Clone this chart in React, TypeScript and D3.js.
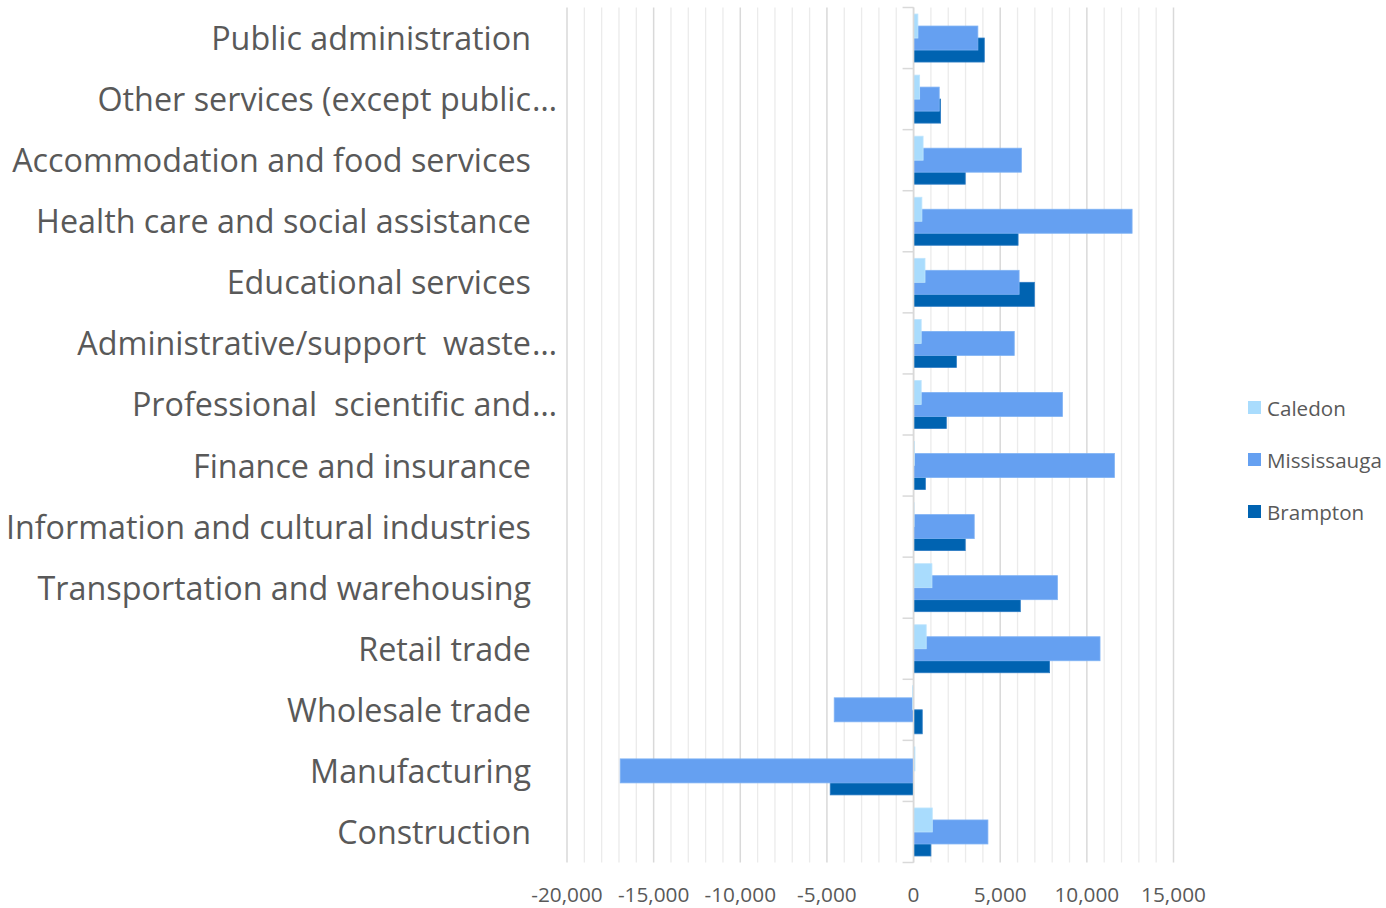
import React from "react";
import * as d3 from "d3";

const categories = [
  "Public administration",
  "Other services (except public…",
  "Accommodation and food services",
  "Health care and social assistance",
  "Educational services",
  "Administrative/support  waste…",
  "Professional  scientific and…",
  "Finance and insurance",
  "Information and cultural industries",
  "Transportation and warehousing",
  "Retail trade",
  "Wholesale trade",
  "Manufacturing",
  "Construction",
];

const seriesNames = ["Caledon", "Mississauga", "Brampton"];
const seriesColors = ["#a9dcfd", "#65a0f1", "#0063b1"];

const caledon = [250, 350, 550, 480, 660, 440, 440, 50, 30, 1060, 730, -60, 80, 1080];
const mississauga = [3710, 1480, 6220, 12610, 6090, 5810, 8590, 11590, 3500, 8300, 10760, -4580, -16930, 4290];
const brampton = [4080, 1560, 2980, 6030, 6970, 2470, 1890, 680, 2980, 6160, 7850, 500, -4810, 1000];

const xTicks = [-20000, -15000, -10000, -5000, 0, 5000, 10000, 15000];

export default function App() {
  const W = 1386;
  const H = 908;
  const x = d3.scaleLinear().domain([-20000, 15000]).range([567, 1173.5]);
  const y = d3.scaleBand<string>().domain(categories).range([7.5, 862.5]).padding(0);
  const off = d3.scalePoint<string>().domain(seriesNames).range([-12, 12]);
  const barH = 24;
  const data = [caledon, mississauga, brampton];
  const minor = d3.range(-20000, 15001, 1000);
  const fmt = (v: number) => d3.format(",")(v).replace("\u2212", "-");
  const textColor = "#595959";
  const font = "'Open Sans', 'Noto Sans', sans-serif";
  const drawOrder = [2, 1, 0];
  const [y0, y1] = y.range();
  const labelSize = 32.3;

  return (
    <svg width={W} height={H} style={{ position: "absolute", left: 0, top: 0, background: "#fff" }} fontFamily={font}>
      {minor.filter((v) => v % 5000 !== 0).map((v) => (
        <line key={"m" + v} x1={x(v)} x2={x(v)} y1={y0} y2={y1} stroke="#ebebeb" strokeWidth={1.3} />
      ))}
      {xTicks.map((v) => (
        <line key={"M" + v} x1={x(v)} x2={x(v)} y1={y0} y2={y1} stroke="#d9d9d9" strokeWidth={1.5} />
      ))}
      {categories.map((c) => (
        <line key={"t" + c} x1={x(0) - 11} x2={x(0)} y1={y(c)!} y2={y(c)!} stroke="#d9d9d9" strokeWidth={1.5} />
      ))}
      <line x1={x(0) - 11} x2={x(0)} y1={y1} y2={y1} stroke="#d9d9d9" strokeWidth={1.5} />
      {drawOrder.map((si) =>
        categories.map((c, ci) => {
          const v = data[si][ci];
          const cy = y(c)! + y.bandwidth() / 2 + off(seriesNames[si])!;
          return (
            <rect
              key={si + "-" + c}
              x={Math.min(x(0), x(v))}
              y={cy - barH / 2}
              width={Math.abs(x(v) - x(0))}
              height={barH}
              fill={seriesColors[si]}
              stroke={si === 2 ? "#2b7bc4" : si === 1 ? "#7fb2f4" : "#bfe5fd"}
              strokeWidth={0.8}
            />
          );
        })
      )}
      <line x1={x(0)} x2={x(0)} y1={y0} y2={y1} stroke="#d9d9d9" strokeWidth={1.5} />
      {categories.map((c) => {
        const cy = y(c)! + y.bandwidth() / 2 + 12;
        const trunc = c.endsWith("…");
        const main = trunc ? c.slice(0, -1) : c;
        return (
          <g key={"l" + c}>
            <text x={531} y={cy} textAnchor="end" fontSize={labelSize} fill={textColor} style={{ whiteSpace: "pre" }}>
              {main}
            </text>
            {trunc && (
              <text x={532} y={cy} textAnchor="start" fontSize={labelSize} fill={textColor}>
                …
              </text>
            )}
          </g>
        );
      })}
      {xTicks.map((v) => (
        <text key={"x" + v} x={x(v)} y={901.5} textAnchor="middle" fontSize={20.8} fill={textColor}>
          {fmt(v)}
        </text>
      ))}
      {seriesNames.map((s, i) => (
        <g key={"lg" + s} transform={`translate(1248, ${401 + i * 52})`}>
          <rect x={0} y={0} width={13} height={13} fill={seriesColors[i]} />
          <text x={19} y={14.5} fontSize={20.6} fill={textColor}>
            {s}
          </text>
        </g>
      ))}
    </svg>
  );
}
